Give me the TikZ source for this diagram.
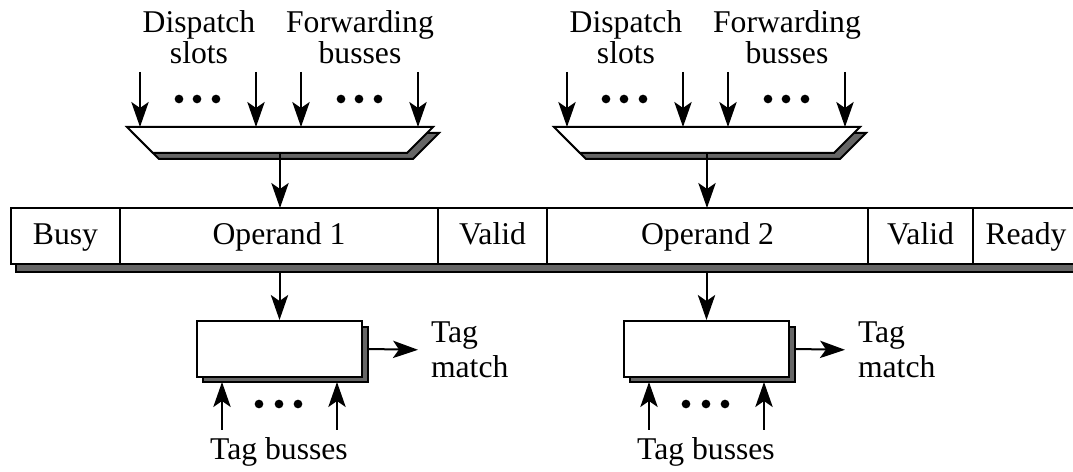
\documentclass[tikz,border=0pt]{standalone}
\usepackage{fontspec}
\setmainfont{Liberation Serif}
\usetikzlibrary{arrows.meta, positioning, calc, backgrounds}

\begin{document}
\begin{tikzpicture}[
  x=0.3pt, y=-0.3pt,
  >={Stealth[length=7.5pt, width=5.2pt, inset=1.8pt]}, line width=0.6pt,
  font=\fontsize{9.5}{9.3}\selectfont,
  field/.style  = {draw, fill=white, rectangle, outer sep=0pt, inner sep=0pt,
                   line width=0.7pt, minimum height=16.8pt,
                   text height=1.6ex, text depth=0.45ex},
  tagbox/.style = {draw, fill=white, rectangle, inner sep=0pt,
                   minimum width=49.5pt, minimum height=16.8pt},
  shade/.style  = {draw, fill=black!60},
  lbl/.style    = {align=center, inner sep=0pt},
]
  \clip (0,0) rectangle (1073,472);
  \useasboundingbox (0,0) rectangle (1073,472);

  % reservation station entry
  \node[field, minimum width=32.7pt]                    (busy)   at (65.5,236) {Busy};
  \node[field, minimum width=95.4pt, right=0pt of busy]   (opA)    {Operand 1};
  \node[field, minimum width=32.7pt, right=0pt of opA]    (validA) {Valid};
  \node[field, minimum width=96.3pt, right=0pt of validA] (opB)    {Operand 2};
  \node[field, minimum width=31.5pt, right=0pt of opB]    (validB) {Valid};
  \node[field, minimum width=31.8pt, right=0pt of validB] (ready)  {Ready};

  \begin{scope}[on background layer]
    \filldraw[shade] ($(busy.north west)+(5,8)$) rectangle ($(ready.south east)+(5,8)$);
  \end{scope}

  % operand 1 side
  \filldraw[shade] (133,133) -- (439,133) -- (413,159) -- (159,159) -- cycle;
  \draw[fill=white] (127,127) -- (433,127) -- (407,153) -- (153,153) -- cycle;
  \coordinate (muxA) at (280,153);
  \foreach \x in {140,256,301,418}
    \draw[->] (\x,72) -- (\x,127);
  \foreach \x in {179,197,216,341,359,378}
    \fill (\x,99) circle (1.3pt);
  \node[lbl] (dispA) at (199,37) {Dispatch\\slots};
  \node[lbl] (fwdA)  at (360,37) {Forwarding\\busses};
  \draw[->] (muxA) -- (muxA |- opA.north);

  \filldraw[shade] (203,327) rectangle (368,382);
  \node[tagbox] (tagA) at (279.5,349) {};
  \draw[->] (tagA.north |- opA.south) ++(0,8) -- (tagA.north);
  \node[lbl, anchor=west, align=left, font=\fontsize{9.5}{10.6}\selectfont] (matchA) at (430,350) {Tag\\match};
  \draw[->, shorten >=3.6pt] (tagA.east) ++(6,0) -- (matchA.west);
  \foreach \x in {259,279,298}
    \fill (\x,404) circle (1.3pt);
  \coordinate (busA1) at (222,430);
  \coordinate (busA2) at (337,430);
  \draw[->] (busA1) -- ++(0,-48);
  \draw[->] (busA2) -- ++(0,-48);
  \node[lbl] (tbA) at (279,452) {Tag busses};

  % operand 2 side
  \filldraw[shade] (560,133) -- (866,133) -- (840,159) -- (586,159) -- cycle;
  \draw[fill=white] (554,127) -- (860,127) -- (834,153) -- (580,153) -- cycle;
  \coordinate (muxB) at (707,153);
  \foreach \x in {567,683,728,845}
    \draw[->] (\x,72) -- (\x,127);
  \foreach \x in {606,624,643,768,786,805}
    \fill (\x,99) circle (1.3pt);
  \node[lbl] (dispB) at (626,37) {Dispatch\\slots};
  \node[lbl] (fwdB)  at (787,37) {Forwarding\\busses};
  \draw[->] (muxB) -- (muxB |- opB.north);

  \filldraw[shade] (630,327) rectangle (795,382);
  \node[tagbox] (tagB) at (706.5,349) {};
  \draw[->] (tagB.north |- opB.south) ++(0,8) -- (tagB.north);
  \node[lbl, anchor=west, align=left, font=\fontsize{9.5}{10.6}\selectfont] (matchB) at (857,350) {Tag\\match};
  \draw[->, shorten >=3.6pt] (tagB.east) ++(6,0) -- (matchB.west);
  \foreach \x in {686,706,725}
    \fill (\x,404) circle (1.3pt);
  \coordinate (busB1) at (649,430);
  \coordinate (busB2) at (764,430);
  \draw[->] (busB1) -- ++(0,-48);
  \draw[->] (busB2) -- ++(0,-48);
  \node[lbl] (tbB) at (706,452) {Tag busses};
\end{tikzpicture}
\end{document}
